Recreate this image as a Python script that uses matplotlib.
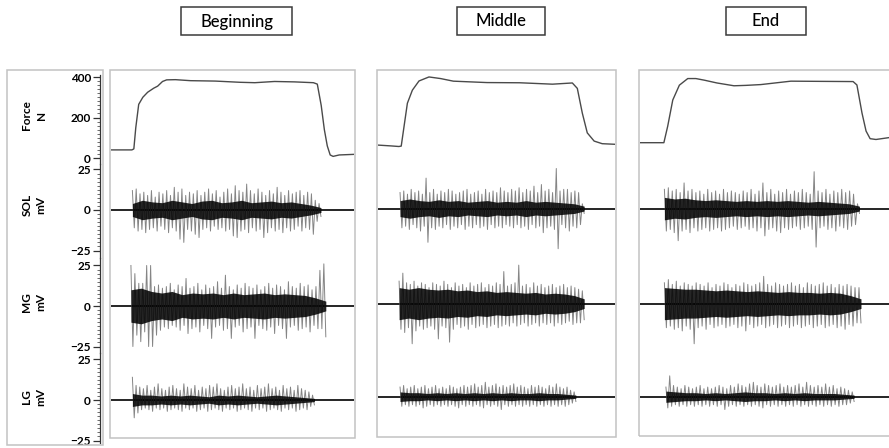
import numpy as np
import matplotlib
matplotlib.use("Agg")
import matplotlib.pyplot as plt
from matplotlib.patches import Rectangle
from matplotlib.ticker import FixedLocator

plt.rcParams['font.family'] = ['Lato', 'DejaVu Sans']

# ---------------- data ----------------
phases = ["Beginning", "Middle", "End"]
row_labels = ["Force\nN", "SOL\nmV", "MG\nmV", "LG\nmV"]
force_ticks = [0, 200, 400]
emg_ticks = [-25, 0, 25]

# Force traces (time in s, force in N); each panel spans 0-10 s
FORCE_BEG_T = [0.00, 0.86, 0.94, 1.02, 1.14, 1.31, 1.51, 1.76, 1.92, 2.12, 2.29, 2.65, 3.27,
               4.29, 5.31, 5.92, 6.73, 7.55, 8.33, 8.49, 8.65, 8.78, 8.90, 9.02, 9.14, 9.39, 10.0]
FORCE_BEG = [40, 40, 45, 150, 265, 300, 325, 345, 355, 378, 386, 387, 382,
             380, 374, 372, 378, 376, 372, 365, 260, 140, 60, 15, 8, 15, 18]
FORCE_MID_T = [0.00, 0.54, 0.88, 0.98, 1.10, 1.24, 1.45, 1.73, 2.15, 2.64, 3.18, 4.60, 5.98,
               7.36, 8.20, 8.41, 8.62, 8.83, 9.12, 9.46, 10.0]
FORCE_MID = [60, 56, 53, 55, 154, 269, 334, 380, 400, 392, 379, 372, 371,
             364, 370, 343, 220, 121, 80, 67, 64]
FORCE_END_T = [0.00, 0.94, 1.09, 1.29, 1.55, 1.88, 2.20, 2.53, 3.03, 3.70, 4.17, 4.76, 5.94,
               7.13, 8.39, 8.54, 8.74, 8.90, 9.06, 9.29, 9.84, 10.0]
FORCE_END = [72, 72, 154, 285, 359, 392, 392, 384, 370, 356, 358, 362, 379,
             378, 377, 360, 220, 130, 92, 88, 98, 98]

# EMG burst on/off times (s)
SOL_ON = [0.88, 0.93, 0.96]
SOL_OFF = [8.64, 8.70, 8.64]
MG_ON = [0.82, 0.89, 0.96]
MG_OFF = [8.84, 8.70, 8.70]
LG_ON = [0.88, 0.93, 1.02]
LG_OFF = [8.37, 8.35, 8.43]

# EMG successive peaks (mV): positive peaks (HI) and negative peak magnitudes (LO)
SOL_BEG_HI = [12, 13, 10, 11, 9, 12, 8, 11, 10, 12, 9, 14, 11, 13, 9, 11, 10, 12, 9, 11,
              13, 10, 12, 8, 11, 13, 10, 15, 12, 11, 16, 12, 10, 13, 11, 9, 12, 10, 14, 11,
              9, 12, 10, 11, 12, 9, 11, 10, 6, 4]
SOL_BEG_LO = [11, 13, 12, 14, 12, 11, 13, 10, 12, 14, 11, 13, 18, 20, 12, 13, 15, 17, 12, 11,
              13, 10, 12, 11, 13, 12, 16, 17, 13, 12, 14, 11, 13, 12, 17, 14, 11, 13, 12, 14,
              11, 13, 12, 10, 13, 11, 12, 15, 7, 4]
MG_BEG_HI = [25, 20, 14, 14, 25, 25, 12, 13, 11, 12, 14, 10, 13, 12, 17, 11, 12, 14, 10, 13,
             11, 12, 15, 11, 19, 12, 10, 13, 11, 14, 12, 11, 13, 10, 12, 14, 11, 13, 12, 10,
             15, 12, 11, 14, 12, 13, 10, 12, 22, 26]
MG_BEG_LO = [25, 18, 22, 16, 25, 25, 18, 15, 13, 14, 12, 13, 15, 12, 17, 14, 13, 16, 12, 14,
             20, 13, 12, 15, 14, 20, 13, 12, 16, 14, 13, 20, 12, 14, 15, 13, 17, 12, 14, 20,
             13, 12, 15, 14, 13, 16, 12, 14, 14, 19]
LG_BEG_HI = [14, 9, 8, 7, 9, 6, 8, 10, 7, 6, 8, 9, 7, 6, 10, 8, 7, 9, 6, 8,
             7, 9, 8, 10, 7, 6, 8, 9, 7, 8, 10, 7, 8, 6, 9, 7, 8, 10, 7, 8,
             6, 9, 7, 8, 6, 9, 7, 6, 5, 3]
LG_BEG_LO = [11, 8, 6, 5, 6, 7, 5, 6, 5, 7, 6, 5, 6, 7, 5, 6, 5, 7, 6, 5,
             7, 6, 5, 6, 7, 5, 6, 5, 7, 6, 5, 6, 7, 5, 6, 5, 7, 6, 5, 6,
             7, 5, 6, 5, 7, 6, 5, 6, 4, 3]

SOL_MID_HI = [10, 11, 9, 12, 10, 11, 9, 19, 10, 12, 9, 11, 10, 12, 11, 9, 10, 11, 12, 9,
              10, 11, 9, 12, 10, 11, 10, 13, 11, 10, 12, 11, 13, 10, 12, 11, 14, 10, 15, 11,
              12, 10, 25, 11, 12, 12, 10, 11, 10, 3]
SOL_MID_LO = [12, 11, 13, 10, 12, 14, 11, 21, 12, 13, 11, 12, 10, 13, 11, 12, 10, 13, 11, 12,
              10, 12, 11, 13, 10, 12, 11, 12, 10, 11, 12, 10, 12, 11, 13, 10, 12, 11, 15, 12,
              11, 13, 25, 10, 12, 14, 11, 12, 10, 3]
MG_MID_HI = [14, 19, 13, 12, 14, 11, 13, 12, 10, 13, 12, 11, 14, 12, 10, 13, 11, 12, 10, 13,
             11, 12, 13, 10, 12, 11, 13, 12, 20, 11, 12, 13, 24, 11, 12, 10, 13, 11, 12, 10,
             11, 12, 10, 11, 12, 10, 11, 10, 9, 8]
MG_MID_LO = [16, 18, 15, 25, 17, 14, 16, 15, 14, 16, 22, 14, 15, 24, 16, 13, 15, 14, 16, 13,
             15, 14, 13, 15, 14, 13, 15, 14, 13, 14, 12, 14, 13, 12, 14, 13, 12, 14, 12, 13,
             12, 14, 12, 13, 12, 11, 13, 12, 12, 10]
LG_MID_HI = [6, 7, 5, 6, 7, 5, 6, 7, 5, 6, 7, 5, 6, 5, 7, 6, 5, 6, 7, 6,
             7, 8, 6, 7, 9, 6, 7, 8, 6, 7, 6, 7, 8, 6, 7, 6, 5, 7, 6, 7,
             6, 5, 7, 6, 8, 6, 5, 6, 4, 3]
LG_MID_LO = [6, 5, 6, 5, 6, 5, 7, 6, 5, 6, 5, 6, 5, 6, 5, 6, 7, 5, 6, 5,
             6, 5, 6, 7, 5, 6, 5, 6, 8, 5, 6, 5, 6, 5, 6, 5, 6, 5, 6, 5,
             6, 5, 6, 5, 6, 5, 6, 5, 4, 3]

SOL_END_HI = [12, 13, 11, 12, 10, 16, 11, 12, 10, 11, 9, 12, 10, 11, 9, 12, 10, 11, 10, 9,
              11, 10, 12, 9, 11, 16, 10, 12, 9, 11, 10, 12, 9, 11, 10, 12, 10, 9, 23, 11,
              10, 12, 9, 11, 10, 12, 10, 11, 9, 3]
SOL_END_LO = [14, 13, 15, 20, 14, 13, 15, 12, 14, 13, 12, 14, 13, 12, 14, 13, 12, 11, 13, 12,
              11, 13, 12, 14, 12, 17, 13, 12, 14, 15, 12, 13, 12, 11, 13, 12, 11, 13, 24, 12,
              11, 13, 12, 14, 11, 12, 13, 11, 10, 3]
MG_END_HI = [13, 15, 12, 14, 11, 13, 12, 11, 13, 12, 11, 13, 10, 12, 11, 13, 12, 10, 12, 11,
             13, 12, 11, 12, 13, 17, 12, 11, 13, 12, 11, 12, 13, 11, 12, 10, 13, 12, 11, 12,
             13, 11, 12, 10, 12, 11, 12, 11, 10, 10]
MG_END_LO = [15, 14, 16, 15, 17, 14, 16, 25, 15, 14, 16, 13, 15, 14, 13, 15, 14, 13, 15, 14,
             17, 13, 15, 14, 13, 15, 14, 13, 15, 14, 13, 15, 14, 13, 15, 14, 13, 15, 14, 13,
             15, 14, 13, 15, 14, 16, 13, 14, 12, 12]
LG_END_HI = [6, 13, 7, 6, 5, 7, 6, 5, 6, 7, 5, 6, 5, 6, 7, 6, 5, 7, 6, 8,
             7, 6, 8, 9, 7, 6, 8, 7, 6, 7, 8, 6, 7, 6, 7, 8, 6, 9, 7, 6,
             7, 6, 8, 6, 7, 5, 6, 5, 4, 3]
LG_END_LO = [7, 6, 5, 6, 5, 6, 5, 6, 5, 6, 5, 6, 5, 6, 5, 8, 6, 5, 6, 5,
             6, 5, 6, 5, 6, 7, 5, 6, 5, 6, 5, 6, 5, 6, 5, 6, 5, 6, 5, 6,
             5, 6, 5, 6, 5, 6, 5, 5, 4, 3]

# dense core envelope amplitude (mV) across the burst
SOL_BEG_CORE = [4, 6, 5, 4.5, 6, 5, 4, 5.5, 6, 4.5, 5, 6, 4.5, 5, 5.5, 4.5, 5, 4, 3, 1.5]
MG_BEG_CORE = [10, 11, 9, 8, 9, 7, 8, 7.5, 8, 7, 8, 7, 7.5, 8, 7, 7.5, 7, 6.5, 5, 3]
LG_BEG_CORE = [4, 3, 3, 2.5, 3, 2.5, 3, 2.5, 2, 3, 2.5, 3, 2.5, 2, 2.5, 3, 2.5, 2, 1.5, 1]
SOL_MID_CORE = [5, 6, 5, 4.5, 5.5, 4.5, 5, 4, 4.5, 5, 4, 4.5, 4, 5, 4, 4.5, 4, 3.5, 3, 1.5]
MG_MID_CORE = [10, 9, 10, 9, 8.5, 9, 8, 8.5, 7.5, 8, 7, 7.5, 7, 6.5, 7, 6, 6.5, 6, 5, 3]
LG_MID_CORE = [3, 2.5, 2.5, 2, 2.5, 2, 2.5, 2, 2.5, 2, 2.5, 2, 2.5, 2, 2, 2.5, 2, 2, 1.5, 1]
SOL_END_CORE = [7, 6, 6.5, 5.5, 5, 5.5, 5, 4.5, 5, 4.5, 5, 4.5, 5, 4.5, 4, 4.5, 4, 3.5, 3, 1.5]
MG_END_CORE = [10, 9.5, 9, 9, 8.5, 8, 8.5, 8, 7.5, 8, 7.5, 7, 7.5, 7, 7, 6.5, 7, 6.5, 5, 3]
LG_END_CORE = [3.5, 3, 2.5, 2.5, 2, 2.5, 2, 2.5, 3, 2.5, 2.5, 2, 2.5, 2, 2.5, 2, 2, 2, 1.5, 1]

force_t = [FORCE_BEG_T, FORCE_MID_T, FORCE_END_T]
force_v = [FORCE_BEG, FORCE_MID, FORCE_END]
emg = {
    "SOL": (SOL_ON, SOL_OFF, [SOL_BEG_HI, SOL_MID_HI, SOL_END_HI],
            [SOL_BEG_LO, SOL_MID_LO, SOL_END_LO], [SOL_BEG_CORE, SOL_MID_CORE, SOL_END_CORE]),
    "MG": (MG_ON, MG_OFF, [MG_BEG_HI, MG_MID_HI, MG_END_HI],
           [MG_BEG_LO, MG_MID_LO, MG_END_LO], [MG_BEG_CORE, MG_MID_CORE, MG_END_CORE]),
    "LG": (LG_ON, LG_OFF, [LG_BEG_HI, LG_MID_HI, LG_END_HI],
           [LG_BEG_LO, LG_MID_LO, LG_END_LO], [LG_BEG_CORE, LG_MID_CORE, LG_END_CORE]),
}
channels = ["SOL", "MG", "LG"]

# ---------------- layout (pixels) ----------------
W, H = 889, 448
fig = plt.figure(figsize=(W / 100, H / 100), dpi=100)


def frect(x0, y0, x1, y1):
    return [x0 / W, 1 - y1 / H, (x1 - x0) / W, (y1 - y0) / H]


# rows: (top px, bottom px, zero px, units per px)
rows = [(70, 164, 158, 4.94), (164, 258, 210, 0.617),
        (258, 353, 306, 0.617), (353, 438, 400, 0.617)]
panels_x = [(110, 355), (377, 616), (639, 895)]
panels_bottom = [438, 437, 436]
col_scale = [1.0, 0.99, 0.99]
frame_col = "#c2c2c2"


def ylims(top, bot, zero, upp):
    return (-(bot - zero) * upp, (zero - top) * upp)


# panel frames
for (x0, x1), yb in zip(panels_x, panels_bottom):
    fig.add_artist(Rectangle((x0 / W, 1 - yb / H), (x1 - x0) / W, (yb - 70) / H,
                             transform=fig.transFigure, fill=False,
                             edgecolor=frame_col, lw=1.1))
# left label box
fig.add_artist(Rectangle((7 / W, 1 - 445 / H), (103 - 7) / W, (445 - 70) / H,
                         transform=fig.transFigure, fill=False,
                         edgecolor=frame_col, lw=1.1))

for c in range(3):
    x0, x1 = panels_x[c]
    k = col_scale[c]
    for r in range(4):
        top, bot, zero, upp = rows[r]
        top2 = 70 + (top - 70) * k
        bot2 = 70 + (bot - 70) * k
        zero2 = 70 + (zero - 70) * k
        ax = fig.add_axes(frect(x0 + 1, top2, x1 - 1, bot2))
        ax.set_axis_off()
        ax.set_xlim(0, 10)
        ax.set_ylim(*ylims(top2, bot2, zero2, upp / k))
        if r == 0:
            ax.plot(force_t[c], force_v[c], color="#4a4a4a", lw=1.0)
        else:
            ch = channels[r - 1]
            on, off, his, los, cores = emg[ch]
            hi = np.array(his[c], dtype=float)
            lo = np.array(los[c], dtype=float)
            core = np.array(cores[c], dtype=float)
            n = len(hi)
            # successive positive / negative peaks drawn as one trace
            tp = np.linspace(on[c], off[c], 2 * n)
            yp = np.empty(2 * n)
            yp[0::2] = hi
            yp[1::2] = -lo
            tc = np.linspace(on[c], off[c], len(core))
            ax.axhline(0, color="black", lw=1.2, zorder=1)
            ax.plot(tp, yp, color="#858585", lw=0.7, zorder=2)
            ax.fill_between(tc, -core, core, color="black", alpha=0.85, lw=0, zorder=3)

# left axis column
for r in range(4):
    top, bot, zero, upp = rows[r]
    if r == 3:
        bot = 446
    ax = fig.add_axes(frect(100, top, 103, bot))
    ax.set_ylim(*ylims(top, bot, zero, upp))
    ax.set_xlim(0, 1)
    for s in ["top", "right", "bottom"]:
        ax.spines[s].set_visible(False)
    ax.spines["left"].set_color("#333333")
    ax.spines["left"].set_linewidth(0.9)
    ax.set_xticks([])
    if r == 0:
        ax.yaxis.set_major_locator(FixedLocator(force_ticks))
        ax.yaxis.set_minor_locator(FixedLocator(list(range(0, 401, 20))))
        ax.spines["left"].set_bounds(ylims(top, bot, zero, upp)[0], 412)
    else:
        ax.yaxis.set_major_locator(FixedLocator(emg_ticks))
        ax.yaxis.set_minor_locator(FixedLocator(list(np.arange(-25, 25.01, 2.5))))
        if r == 3:
            ax.spines["left"].set_bounds(-26.5, ylims(top, bot, zero, upp)[1])
    ax.tick_params(axis="y", which="major", length=5, width=0.9, color="#333333",
                   labelsize=8.5, pad=1.5)
    ax.tick_params(axis="y", which="minor", length=2.5, width=0.6, color="#555555")
    for lab in ax.get_yticklabels():
        lab.set_fontweight("bold")
    ax.patch.set_visible(False)

# row labels
label_y = [115, 205, 302, 397]
for lab, y in zip(row_labels, label_y):
    fig.text(34 / W, 1 - y / H, lab, rotation=90, ha="center", va="center",
             multialignment="center", fontsize=8.5, fontweight="bold", linespacing=1.35)

# title boxes
title_boxes = [(181, 292), (457, 545), (726, 806)]
for name, (bx0, bx1) in zip(phases, title_boxes):
    fig.add_artist(Rectangle((bx0 / W, 1 - 35 / H), (bx1 - bx0) / W, 28 / H,
                             transform=fig.transFigure, facecolor="white",
                             edgecolor="#3a3a3a", lw=1.1))
    fig.text((bx0 + bx1) / 2 / W, 1 - 21.5 / H, name, ha="center", va="center",
             fontsize=12, fontweight="medium")

fig.savefig("out.png", dpi=100)
